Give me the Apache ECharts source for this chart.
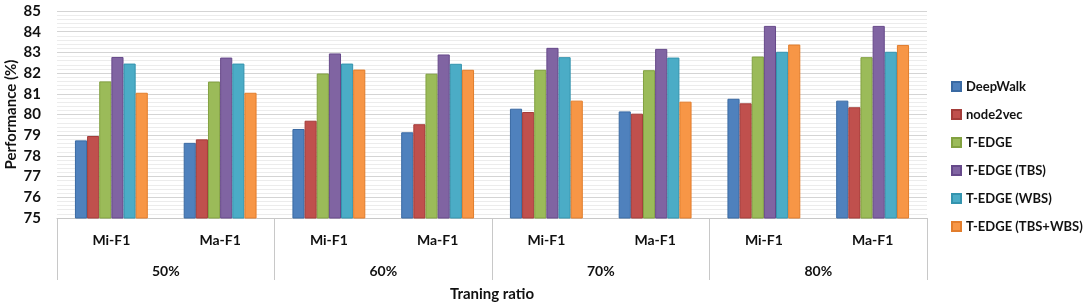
<!DOCTYPE html>
<html>
<head>
<meta charset="utf-8">
<script src="https://cdn.jsdelivr.net/npm/echarts@6/dist/echarts.min.js"></script>
<style>
  html, body { margin: 0; padding: 0; background: #fff; }
  #main { width: 1084px; height: 304px; }
</style>
</head>
<body>
<div id="main"></div>
<script>
// data
var metrics = ['Mi-F1', 'Ma-F1', 'Mi-F1', 'Ma-F1', 'Mi-F1', 'Ma-F1', 'Mi-F1', 'Ma-F1'];
var ratios = ['50%', '60%', '70%', '80%'];
var methods = ['DeepWalk', 'node2vec', 'T-EDGE', 'T-EDGE (TBS)', 'T-EDGE (WBS)', 'T-EDGE (TBS+WBS)'];

var deepWalk = [78.75, 78.63, 79.30, 79.14, 80.28, 80.15, 80.76, 80.67];
var node2vec = [78.96, 78.80, 79.70, 79.53, 80.12, 80.04, 80.54, 80.35];
var tEdge    = [81.60, 81.59, 81.98, 81.97, 82.16, 82.14, 82.80, 82.77];
var tEdgeTBS = [82.78, 82.75, 82.95, 82.90, 83.22, 83.17, 84.28, 84.28];
var tEdgeWBS = [82.46, 82.46, 82.46, 82.45, 82.77, 82.75, 83.03, 83.03];
var tEdgeAll = [81.05, 81.05, 82.17, 82.16, 80.67, 80.62, 83.38, 83.36];

var colors = ['#4F81BD', '#C0504D', '#9BBB59', '#8064A2', '#4BACC6', '#F79646'];
var borders = ['#3A6AA3', '#A43C39', '#82A140', '#66498A', '#3494AE', '#E27D2C'];
var seriesData = [deepWalk, node2vec, tEdge, tEdgeTBS, tEdgeWBS, tEdgeAll];

var chart = echarts.init(document.getElementById('main'));

var font = 'Lato, "Liberation Sans", sans-serif';

var option = {
  animation: false,
  color: colors,
  textStyle: { fontFamily: font },
  grid: { left: 57, right: 157, top: 11, bottom: 86, outerBoundsMode: 'none', containLabel: false },
  legend: {
    orient: 'vertical',
    left: 946,
    top: 75,
    itemWidth: 9,
    itemHeight: 9,
    itemGap: 15,
    icon: 'rect',
    textStyle: { fontFamily: font, fontSize: 13, fontWeight: 'bold', color: '#111' },
    data: methods
  },
  xAxis: [
    {
      type: 'category',
      data: metrics,
      position: 'bottom',
      axisLine: { show: true, lineStyle: { color: '#c8c8c8', width: 1 } },
      axisTick: { show: false },
      axisLabel: { margin: 15, fontSize: 14, fontWeight: 'bold', color: '#111', fontFamily: font }
    },
    {
      type: 'category',
      data: ratios,
      position: 'bottom',
      axisLine: { show: false },
      axisTick: { show: true, length: 62, lineStyle: { color: '#c8c8c8', width: 1 } },
      axisLabel: { margin: 46, fontSize: 14, fontWeight: 'bold', color: '#111', fontFamily: font },
      name: 'Traning ratio',
      nameLocation: 'middle',
      nameGap: 69,
      nameMoveOverlap: false,
      nameTextStyle: { fontSize: 15, fontWeight: 'bold', color: '#111', fontFamily: font }
    }
  ],
  yAxis: {
    type: 'value',
    min: 75,
    max: 85,
    interval: 1,
    name: 'Performance (%)',
    nameLocation: 'middle',
    nameGap: 38,
    nameMoveOverlap: false,
    nameTextStyle: { fontSize: 15, fontWeight: 'bold', color: '#111', fontFamily: font },
    axisLine: { show: false },
    axisTick: { show: false },
    axisLabel: { margin: 16, fontSize: 15, fontWeight: 'bold', color: '#111', fontFamily: font },
    splitLine: { lineStyle: { color: '#d4d4d4', width: 1 } },
    minorTick: { show: false, splitNumber: 5 },
    minorSplitLine: { show: true, lineStyle: { color: '#ececec', width: 1 } }
  },
  series: methods.map(function (name, i) {
    return {
      name: name,
      type: 'bar',
      xAxisIndex: 0,
      data: seriesData[i],
      barGap: '0%',
      barCategoryGap: '33%',
      itemStyle: { color: colors[i], borderColor: borders[i], borderWidth: 1 }
    };
  })
};

chart.setOption(option);
</script>
</body>
</html>
